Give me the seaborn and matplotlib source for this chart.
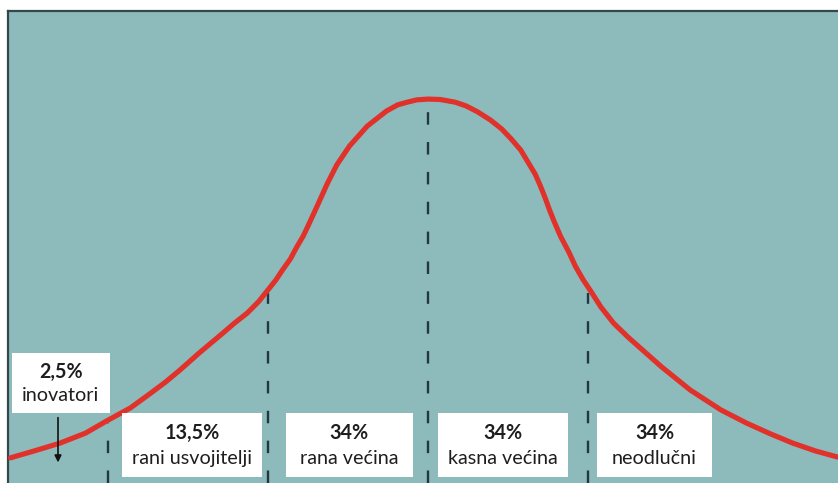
import matplotlib
matplotlib.use("Agg")
import matplotlib.pyplot as plt
from matplotlib.patches import Rectangle
import pandas as pd
import seaborn as sns

# Adoption curve, x in standard deviations from the mean, y as relative height
curve_x = [-2.61, -2.46, -2.30, -2.14, -2.01, -1.86, -1.74, -1.64, -1.55, -1.43,
           -1.28, -1.21, -1.13, -1.06, -1.00, -0.95, -0.91, -0.86, -0.82, -0.78,
           -0.75, -0.69, -0.63, -0.57, -0.49, -0.38, -0.26, -0.19, -0.13, -0.07,
           0.00, 0.075, 0.17, 0.24, 0.31, 0.39, 0.46, 0.52, 0.58, 0.625,
           0.67, 0.70, 0.73, 0.76, 0.79, 0.83, 0.88, 0.92, 0.97, 1.02,
           1.08, 1.16, 1.25, 1.46, 1.64, 1.83, 1.99, 2.14, 2.28, 2.42,
           2.56]
curve_y = [0.065, 0.083, 0.103, 0.129, 0.160, 0.194, 0.230, 0.261, 0.292, 0.336,
           0.388, 0.413, 0.439, 0.468, 0.499, 0.525, 0.550, 0.579, 0.610, 0.638,
           0.664, 0.718, 0.773, 0.822, 0.871, 0.922, 0.961, 0.977, 0.984, 0.990,
           0.992, 0.991, 0.984, 0.974, 0.959, 0.938, 0.915, 0.889, 0.860, 0.829,
           0.798, 0.770, 0.739, 0.705, 0.674, 0.636, 0.597, 0.561, 0.525, 0.494,
           0.455, 0.413, 0.377, 0.300, 0.240, 0.189, 0.155, 0.127, 0.103, 0.083,
           0.067]

# Segment boundaries and the curve height where each divider starts
divider_x = [-2, -1, 0, 1]
divider_top = [0.155, 0.49, 0.99, 0.49]

# Segment labels
shares = ["2,5%", "13,5%", "34%", "34%", "34%"]
groups = ["inovatori", "rani usvojitelji", "rana većina", "kasna većina", "neodlučni"]

BG = "#8DBABB"
RED = "#E0312A"
DARK = "#22383D"
TEXT = "#1E1E1E"

sns.set_style("white")
plt.rcParams["font.family"] = ["Lato", "DejaVu Sans"]

fig = plt.figure(figsize=(8.38, 4.83), dpi=100)
fig.patch.set_facecolor("white")
ax = fig.add_axes([8 / 838, 0, 830 / 838, 472 / 483])
ax.set_facecolor(BG)

df = pd.DataFrame({"x": curve_x, "y": curve_y})
sns.lineplot(data=df, x="x", y="y", ax=ax, color=RED, linewidth=3.7,
             sort=False, zorder=3, solid_capstyle="round", solid_joinstyle="round")

lw = 1.7
for xv, top in zip(divider_x, divider_top):
    ax.plot([xv, xv], [0, top], color=DARK, linewidth=lw,
            linestyle=(0, (9.0 / lw, 12.5 / lw)), zorder=2)

# Label boxes: (left, right, bottom, top) in data units
boxes = [(-2.60, -1.99, 0.181, 0.336), (-1.91, -1.04, 0.015, 0.181),
         (-0.89, -0.095, 0.015, 0.181), (0.0625, 0.875, 0.015, 0.181),
         (1.056, 1.775, 0.015, 0.181)]
for (l, r, b, t), share, group in zip(boxes, shares, groups):
    ax.add_patch(Rectangle((l, b), r - l, t - b, facecolor="white",
                           edgecolor="none", zorder=4))
    cx = (l + r) / 2
    h = t - b
    ax.text(cx, b + h * 0.69, share, ha="center", va="center", fontsize=14.2,
            fontweight="bold", color=TEXT, zorder=5)
    ax.text(cx, b + h * 0.29, group, ha="center", va="center", fontsize=14.2,
            color=TEXT, zorder=5)

# Arrow pointing from the innovators label into the tail
ax.annotate("", xy=(-2.3125, 0.046), xytext=(-2.3125, 0.176),
            arrowprops=dict(arrowstyle="-|>", color="#111111", lw=1.2,
                            mutation_scale=10), zorder=5)

ax.set_xlim(-2.625, 2.5625)
ax.set_ylim(0, 1.2196)
ax.set_xticks([])
ax.set_yticks([])
ax.set_xlabel("")
ax.set_ylabel("")
for side in ["right", "bottom"]:
    ax.spines[side].set_visible(False)
for side in ["top", "left"]:
    ax.spines[side].set_visible(True)
    ax.spines[side].set_color("#34474A")
    ax.spines[side].set_linewidth(1.6)

fig.savefig("out.png", dpi=100, facecolor="white")
